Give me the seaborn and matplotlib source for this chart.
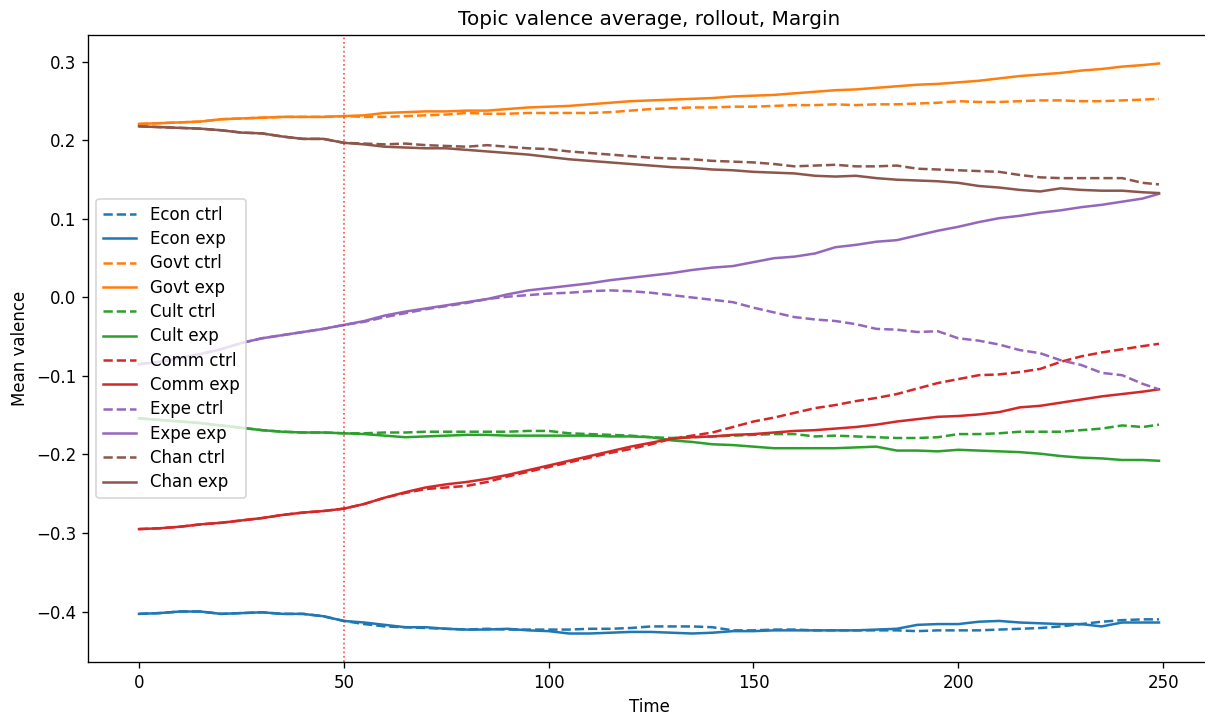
import matplotlib
matplotlib.use("Agg")
import matplotlib.pyplot as plt
import pandas as pd
import seaborn as sns

TIME = [0, 5, 10, 15, 20, 25, 30, 35, 40, 45,
        50, 55, 60, 65, 70, 75, 80, 85, 90, 95,
        100, 105, 110, 115, 120, 125, 130, 135, 140, 145,
        150, 155, 160, 165, 170, 175, 180, 185, 190, 195,
        200, 205, 210, 215, 220, 225, 230, 235, 240, 245,
        249]

TOPICS = ["Econ", "Govt", "Cult", "Comm", "Expe", "Chan"]

econ_ctrl = [-0.403, -0.402, -0.400, -0.400, -0.403, -0.402, -0.401, -0.403, -0.403, -0.406,
             -0.412, -0.416, -0.419, -0.420, -0.421, -0.422, -0.423, -0.422, -0.423, -0.423,
             -0.423, -0.423, -0.422, -0.422, -0.421, -0.419, -0.419, -0.419, -0.420, -0.424,
             -0.424, -0.423, -0.423, -0.424, -0.424, -0.424, -0.424, -0.424, -0.425, -0.424,
             -0.424, -0.424, -0.423, -0.422, -0.421, -0.419, -0.416, -0.413, -0.411, -0.410,
             -0.410]
econ_exp = [-0.403, -0.402, -0.400, -0.400, -0.403, -0.402, -0.401, -0.403, -0.403, -0.406,
            -0.412, -0.414, -0.417, -0.420, -0.420, -0.422, -0.423, -0.423, -0.422, -0.424,
            -0.425, -0.428, -0.428, -0.427, -0.426, -0.426, -0.427, -0.428, -0.427, -0.425,
            -0.425, -0.424, -0.424, -0.424, -0.424, -0.424, -0.423, -0.422, -0.417, -0.416,
            -0.416, -0.413, -0.412, -0.414, -0.415, -0.416, -0.416, -0.419, -0.414, -0.414,
            -0.414]

govt_ctrl = [0.221, 0.222, 0.223, 0.224, 0.227, 0.228, 0.229, 0.230, 0.230, 0.230,
             0.231, 0.230, 0.230, 0.231, 0.232, 0.233, 0.235, 0.234, 0.234, 0.235,
             0.235, 0.235, 0.235, 0.236, 0.238, 0.240, 0.241, 0.242, 0.242, 0.243,
             0.243, 0.244, 0.245, 0.245, 0.246, 0.245, 0.246, 0.246, 0.247, 0.248,
             0.250, 0.249, 0.249, 0.250, 0.251, 0.251, 0.250, 0.250, 0.251, 0.252,
             0.253]
govt_exp = [0.221, 0.222, 0.223, 0.224, 0.227, 0.228, 0.229, 0.230, 0.230, 0.230,
            0.231, 0.232, 0.235, 0.236, 0.237, 0.237, 0.238, 0.238, 0.240, 0.242,
            0.243, 0.244, 0.246, 0.248, 0.250, 0.251, 0.252, 0.253, 0.254, 0.256,
            0.257, 0.258, 0.260, 0.262, 0.264, 0.265, 0.267, 0.269, 0.271, 0.272,
            0.274, 0.276, 0.279, 0.282, 0.284, 0.286, 0.289, 0.291, 0.294, 0.296,
            0.298]

cult_ctrl = [-0.154, -0.156, -0.158, -0.160, -0.163, -0.166, -0.169, -0.171, -0.172, -0.172,
             -0.173, -0.173, -0.172, -0.172, -0.171, -0.171, -0.171, -0.171, -0.171, -0.170,
             -0.170, -0.173, -0.174, -0.175, -0.176, -0.178, -0.179, -0.178, -0.177, -0.176,
             -0.175, -0.174, -0.174, -0.177, -0.176, -0.177, -0.178, -0.179, -0.179, -0.178,
             -0.174, -0.174, -0.173, -0.171, -0.171, -0.171, -0.169, -0.167, -0.163, -0.165,
             -0.162]
cult_exp = [-0.154, -0.156, -0.158, -0.160, -0.163, -0.166, -0.169, -0.171, -0.172, -0.172,
            -0.173, -0.174, -0.176, -0.178, -0.177, -0.176, -0.175, -0.175, -0.176, -0.176,
            -0.176, -0.176, -0.176, -0.177, -0.177, -0.178, -0.182, -0.184, -0.187, -0.188,
            -0.190, -0.192, -0.192, -0.192, -0.192, -0.191, -0.190, -0.195, -0.195, -0.196,
            -0.194, -0.195, -0.196, -0.197, -0.199, -0.202, -0.204, -0.205, -0.207, -0.207,
            -0.208]

comm_ctrl = [-0.295, -0.294, -0.292, -0.289, -0.287, -0.284, -0.281, -0.277, -0.274, -0.272,
             -0.269, -0.263, -0.255, -0.249, -0.244, -0.242, -0.240, -0.235, -0.228, -0.222,
             -0.216, -0.210, -0.204, -0.198, -0.193, -0.187, -0.180, -0.176, -0.172, -0.165,
             -0.158, -0.153, -0.147, -0.141, -0.137, -0.132, -0.128, -0.123, -0.116, -0.109,
             -0.104, -0.099, -0.098, -0.095, -0.091, -0.082, -0.075, -0.070, -0.066, -0.062,
             -0.059]
comm_exp = [-0.295, -0.294, -0.292, -0.289, -0.287, -0.284, -0.281, -0.277, -0.274, -0.272,
            -0.269, -0.263, -0.255, -0.248, -0.242, -0.238, -0.235, -0.231, -0.226, -0.220,
            -0.214, -0.208, -0.202, -0.196, -0.190, -0.185, -0.180, -0.178, -0.177, -0.175,
            -0.174, -0.172, -0.170, -0.169, -0.167, -0.165, -0.162, -0.158, -0.155, -0.152,
            -0.151, -0.149, -0.146, -0.140, -0.138, -0.134, -0.130, -0.126, -0.123, -0.120,
            -0.117]

expe_ctrl = [-0.085, -0.082, -0.077, -0.072, -0.066, -0.058, -0.052, -0.048, -0.044, -0.040,
             -0.035, -0.031, -0.025, -0.020, -0.015, -0.011, -0.007, -0.002, 0.001, 0.003,
             0.005, 0.006, 0.008, 0.009, 0.008, 0.006, 0.003, 0.000, -0.003, -0.006,
             -0.013, -0.019, -0.025, -0.028, -0.030, -0.034, -0.040, -0.041, -0.044, -0.043,
             -0.052, -0.055, -0.060, -0.067, -0.071, -0.080, -0.086, -0.096, -0.099, -0.110,
             -0.117]
expe_exp = [-0.085, -0.082, -0.077, -0.072, -0.066, -0.058, -0.052, -0.048, -0.044, -0.040,
            -0.035, -0.030, -0.023, -0.018, -0.014, -0.010, -0.006, -0.002, 0.004, 0.009,
            0.012, 0.015, 0.018, 0.022, 0.025, 0.028, 0.031, 0.035, 0.038, 0.040,
            0.045, 0.050, 0.052, 0.056, 0.064, 0.067, 0.071, 0.073, 0.079, 0.085,
            0.090, 0.096, 0.101, 0.104, 0.108, 0.111, 0.115, 0.118, 0.122, 0.126,
            0.132]

chan_ctrl = [0.218, 0.217, 0.216, 0.215, 0.213, 0.210, 0.209, 0.205, 0.202, 0.202,
             0.197, 0.196, 0.195, 0.196, 0.194, 0.193, 0.192, 0.194, 0.192, 0.190,
             0.189, 0.186, 0.184, 0.182, 0.180, 0.178, 0.177, 0.176, 0.174, 0.173,
             0.172, 0.170, 0.167, 0.168, 0.169, 0.167, 0.167, 0.168, 0.164, 0.163,
             0.162, 0.161, 0.160, 0.156, 0.153, 0.152, 0.152, 0.152, 0.152, 0.146,
             0.144]
chan_exp = [0.218, 0.217, 0.216, 0.215, 0.213, 0.210, 0.209, 0.205, 0.202, 0.202,
            0.197, 0.195, 0.192, 0.191, 0.190, 0.190, 0.188, 0.186, 0.184, 0.182,
            0.179, 0.176, 0.174, 0.172, 0.170, 0.168, 0.166, 0.165, 0.163, 0.162,
            0.160, 0.159, 0.158, 0.155, 0.154, 0.155, 0.152, 0.150, 0.149, 0.148,
            0.146, 0.142, 0.140, 0.137, 0.135, 0.139, 0.137, 0.136, 0.136, 0.134,
            0.133]

ROLLOUT_T = 50

series = {
    "Econ": (econ_ctrl, econ_exp),
    "Govt": (govt_ctrl, govt_exp),
    "Cult": (cult_ctrl, cult_exp),
    "Comm": (comm_ctrl, comm_exp),
    "Expe": (expe_ctrl, expe_exp),
    "Chan": (chan_ctrl, chan_exp),
}

colors = sns.color_palette("tab10", len(TOPICS))

DPI = 120
fig = plt.figure(figsize=(1205 / DPI, 716 / DPI), dpi=DPI)
# axes run slightly past the right edge, as in the cropped original
ax = fig.add_axes([88 / 1205, 1 - 662 / 716, (1210 - 88) / 1205, (662 - 35) / 716])

for topic, color in zip(TOPICS, colors):
    ctrl, exp = series[topic]
    df = pd.DataFrame({"time": TIME, "ctrl": ctrl, "exp": exp})
    sns.lineplot(data=df, x="time", y="ctrl", color=color, linestyle="--",
                 linewidth=1.5, label=f"{topic} ctrl", ax=ax)
    sns.lineplot(data=df, x="time", y="exp", color=color, linestyle="-",
                 linewidth=1.5, label=f"{topic} exp", ax=ax)

ax.axvline(ROLLOUT_T, color="red", linestyle=":", linewidth=1, alpha=0.7)

ax.set_title("Topic valence average, rollout, Margin")
ax.set_xlabel("Time")
ax.set_ylabel("Mean valence")
ax.legend(loc="center left", labelspacing=0.38)

fig.savefig("out.png", dpi=DPI)
